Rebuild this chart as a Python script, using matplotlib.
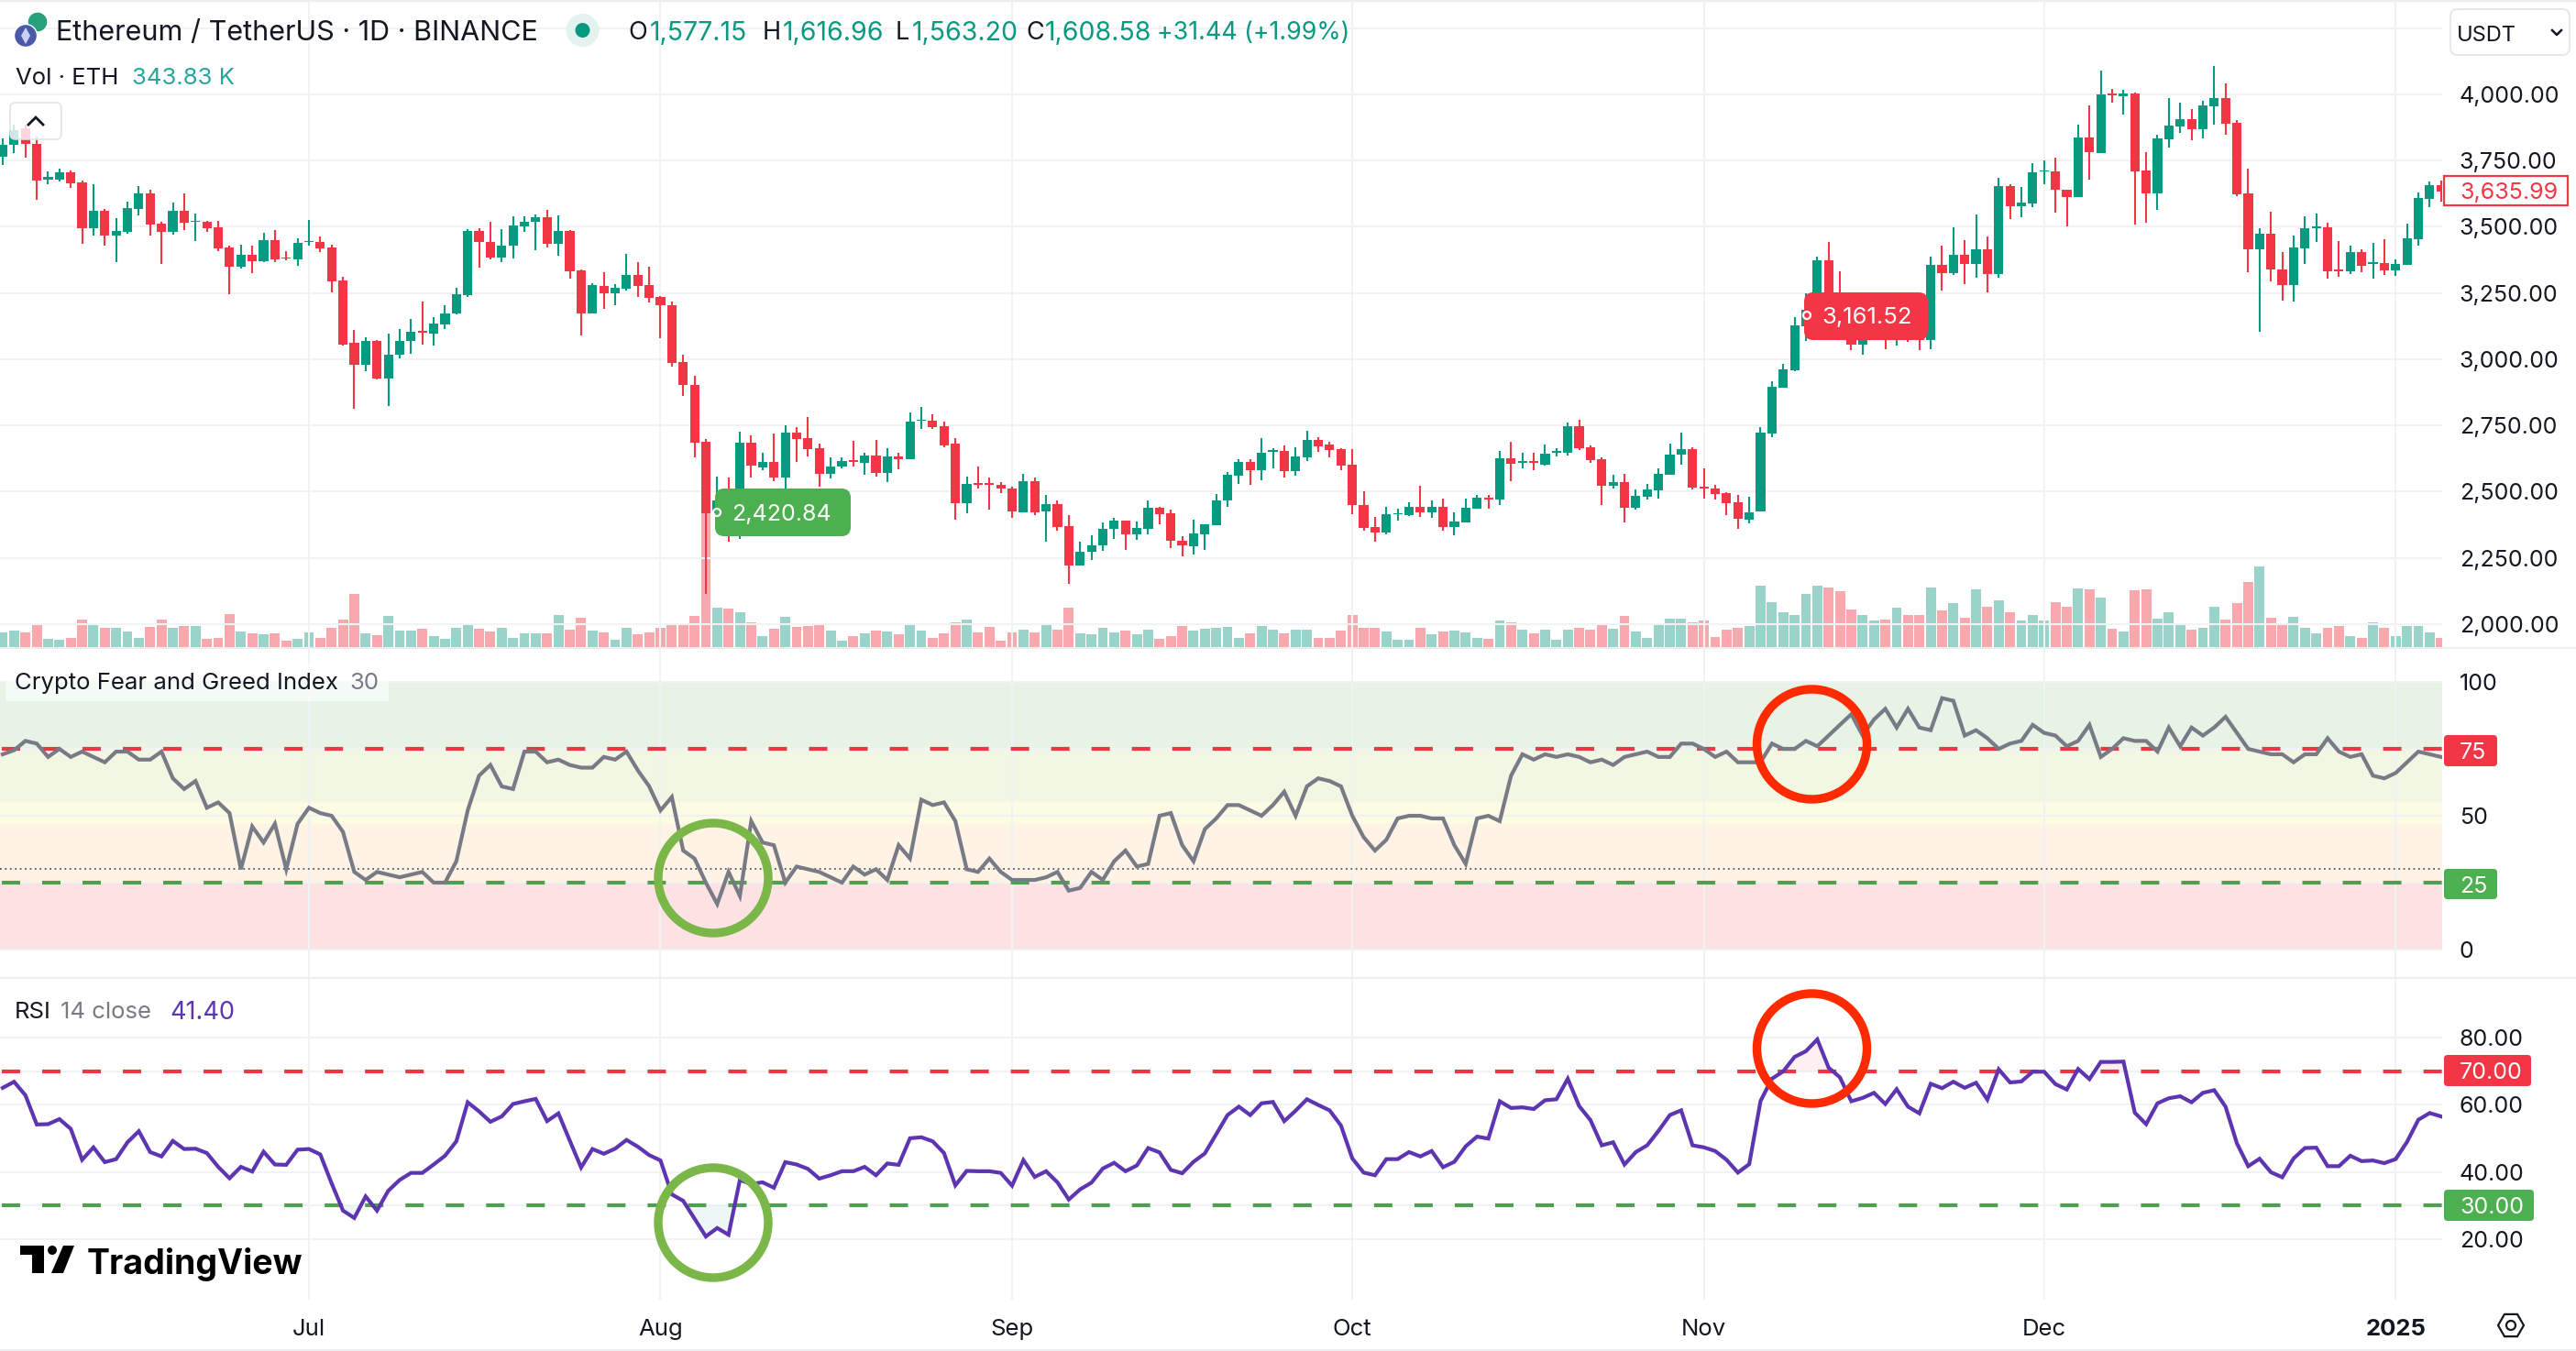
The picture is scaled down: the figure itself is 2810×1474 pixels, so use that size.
import matplotlib
matplotlib.use("Agg")
import matplotlib.pyplot as plt
from matplotlib.patches import FancyBboxPatch, Ellipse, Circle, Polygon, Rectangle, RegularPolygon
import numpy as np

plt.rcParams['font.family'] = ['Inter', 'DejaVu Sans']
plt.rcParams['lines.scale_dashes'] = False

# ---------- data ----------
first_day = -27  # trading days counted from 1 Jul 2024
direction = ("GGRRGGRRGRGGGRRGRGRRRGRGRRG"
             "GRRRRGRGGGRGGGGRRGGGGRGRRGRGGRR"
             "RRRRRGRGRGRGRRRGGRGRGRGGRRRGRRR"
             "RGRGRRGGGGRGGRRRGGGGGRGGRGGRRR"
             "RRRGGGRGRGGGRGRGRGGGRRRGRGGGGGR"
             "RRRRGGGGGGGRRRGGRGRRGRGRGRGRGG"
             "GRRGRGRGRRGGGRGGRRRGRRGGGRRGRGR"
             "GGGGR")
highs = [3832,3887,3887,3840,3708,3720,3712,3673,3660,3566,3533,3593,3652,3638,3517,3590,3625,3549,3522,3522,3430,3431,3428,3477,3487,3407,3458,
 3525,3463,3431,3312,3110,3082,3072,3096,3115,3152,3219,3157,3204,3268,3492,3496,3519,3492,3538,3541,3546,3563,3542,3487,3339,3287,3328,3282,3398,3365,3349,
 3239,3217,3018,2937,2699,2558,2553,2726,2712,2645,2720,2751,2743,2780,2680,2629,2628,2691,2648,2696,2664,2645,2799,2820,2791,2764,2701,2556,2596,2553,2535,
 2518,2566,2553,2489,2466,2410,2311,2334,2383,2400,2391,2386,2466,2443,2431,2330,2394,2375,2492,2573,2624,2624,2702,2664,2675,2667,2728,2704,2688,2664,
 2661,2500,2405,2442,2434,2461,2523,2466,2472,2423,2472,2489,2489,2653,2688,2648,2648,2678,2664,2761,2772,2675,2629,2564,2567,2508,2529,2589,2682,2723,2669,
 2588,2526,2497,2489,2481,2745,2915,2982,3157,3249,3387,3442,3331,3212,3172,3180,3172,3164,3164,3149,3387,3427,3498,3449,3546,3463,3685,3662,3649,3739,
 3749,3760,3641,3887,3959,4089,4022,4017,4006,3781,3848,3987,3967,3943,3975,4106,4041,3903,3719,3496,3557,3404,3466,3539,3550,3514,3446,3427,3415,3439,3454,
 3376,3512,3628,3670,3676]
body_highs = [3808,3863,3871,3811,3687,3706,3706,3668,3560,3560,3484,3571,3625,3625,3512,3560,3560,3523,3519,3498,3422,3395,3393,3449,3449,3384,3438,
 3446,3442,3422,3298,3061,3069,3069,3018,3069,3104,3106,3134,3174,3245,3484,3484,3444,3428,3504,3519,3536,3535,3484,3484,3336,3279,3277,3269,3319,3319,3280,
 3236,3204,2990,2901,2688,2466,2466,2685,2685,2612,2612,2723,2723,2701,2664,2596,2617,2620,2637,2637,2632,2632,2764,2771,2767,2747,2682,2529,2531,2531,2526,
 2513,2540,2540,2452,2452,2370,2273,2297,2358,2389,2389,2364,2440,2439,2418,2316,2342,2375,2466,2564,2612,2612,2645,2656,2655,2631,2696,2694,2677,2659,
 2600,2448,2367,2415,2418,2442,2442,2443,2443,2386,2439,2477,2477,2627,2627,2617,2615,2643,2655,2747,2747,2667,2623,2535,2535,2485,2508,2566,2640,2659,2659,
 2519,2510,2494,2461,2423,2723,2896,2961,3128,3188,3374,3374,3188,3133,3117,3133,3133,3125,3133,3117,3357,3357,3395,3395,3415,3415,3654,3654,3590,3706,
 3712,3709,3641,3836,3836,4000,4003,4002,4003,3712,3833,3881,3906,3906,3959,3986,3986,3892,3625,3474,3474,3338,3422,3495,3501,3498,3339,3404,3403,3366,3363,
 3358,3457,3609,3657,3657]
body_lows = [3765,3808,3811,3676,3679,3678,3665,3496,3496,3468,3468,3479,3566,3509,3482,3481,3514,3519,3496,3419,3350,3349,3371,3369,3376,3379,3377,
 3441,3419,3295,3056,2980,2980,2928,2928,3017,3068,3101,3096,3131,3172,3242,3444,3384,3384,3427,3501,3519,3434,3436,3331,3172,3172,3247,3247,3266,3277,3233,
 3203,2987,2901,2685,2418,2418,2338,2338,2597,2592,2553,2553,2699,2661,2566,2566,2593,2612,2608,2569,2569,2621,2621,2766,2744,2675,2456,2456,2526,2526,2513,
 2424,2423,2421,2424,2367,2222,2222,2272,2296,2358,2338,2338,2361,2416,2315,2296,2294,2338,2373,2466,2561,2580,2580,2651,2578,2578,2629,2672,2656,2599,
 2448,2364,2346,2345,2413,2410,2421,2423,2365,2367,2385,2437,2470,2469,2605,2610,2610,2602,2648,2648,2663,2620,2523,2523,2440,2440,2481,2505,2564,2639,2516,
 2510,2492,2456,2396,2394,2424,2720,2893,2958,3125,3188,3180,3101,3055,3055,3109,3072,3077,3101,3072,3071,3325,3325,3360,3360,3323,3323,3577,3577,3589,
 3708,3639,3612,3612,3781,3779,3997,3992,3709,3625,3625,3830,3879,3868,3868,3954,3890,3622,3415,3415,3338,3280,3280,3419,3496,3331,3331,3331,3352,3361,3336,
 3336,3357,3454,3604,3633]
lows = [3732,3779,3760,3603,3662,3670,3646,3434,3466,3430,3365,3474,3542,3465,3358,3469,3488,3446,3479,3409,3244,3341,3325,3365,3368,3374,3353,
 3430,3403,3253,3052,2812,2956,2923,2823,3004,3021,3055,3050,3114,3168,3236,3346,3377,3368,3379,3482,3411,3423,3390,3303,3090,3172,3191,3203,3260,3234,3214,
 3079,2971,2861,2629,2113,2386,2311,2322,2553,2580,2540,2510,2612,2634,2517,2550,2588,2596,2564,2558,2537,2585,2621,2736,2736,2669,2394,2418,2510,2432,2494,
 2402,2423,2411,2310,2351,2153,2221,2243,2275,2323,2280,2318,2338,2377,2286,2254,2264,2280,2373,2442,2529,2526,2542,2589,2553,2561,2617,2650,2629,2580,
 2415,2354,2311,2338,2391,2408,2405,2402,2353,2334,2385,2434,2437,2450,2540,2589,2580,2599,2632,2637,2656,2608,2450,2510,2385,2432,2469,2474,2564,2602,2507,
 2472,2470,2411,2361,2381,2424,2704,2891,2956,3069,3180,3149,3085,3033,3017,3101,3036,3050,3066,3033,3036,3260,3317,3284,3307,3252,3306,3530,3536,3573,
 3660,3554,3501,3612,3678,3779,3968,3924,3508,3516,3565,3800,3854,3827,3832,3887,3848,3617,3328,3104,3295,3222,3218,3360,3442,3304,3311,3323,3328,3304,3319,
 3314,3357,3427,3574,3593]
# volume, in steps of roughly 14K ETH
volume = [35,41,35,55,21,18,24,66,57,46,48,38,24,50,66,48,51,51,20,22,80,38,33,31,33,16,21,
 35,22,46,66,128,33,29,76,41,41,44,28,20,48,57,44,38,46,24,33,33,33,78,42,71,41,36,18,48,31,35,
 48,57,53,76,383,94,92,85,61,27,44,72,50,52,53,41,16,28,34,41,38,31,58,41,24,33,61,66,35,50,16,
 35,42,35,58,42,94,33,31,48,35,41,31,43,20,27,51,41,44,48,50,24,33,51,43,33,42,42,24,24,41,
 78,48,48,38,18,18,46,31,38,41,35,22,20,65,61,43,33,43,18,43,46,42,53,44,76,38,22,55,68,68,60,
 64,26,42,46,51,148,108,83,77,128,148,142,133,90,77,64,66,94,78,78,142,88,105,70,138,98,113,83,65,78,
 65,107,98,140,138,118,44,38,136,138,68,83,58,43,46,98,66,105,155,192,70,56,72,48,33,48,51,28,24,61,46,
 28,51,51,35,24]
fear_greed = [73,74.5,78,77,72,75,72,74,72,70,74,74,71,71,74,64,60,63,53,55,51,30,46,40,47,30,47,
 53,51,50,44,29,26,29,28,27,28,29,25,25,33,52,65,69,61,60,74,74,70,71,69,68,68,72,71,74,67,61,
 52,57,37,34,25,17,29,20,48,40,39,25,31,30,29,27,25,31,28,30,26,39,34,56,54,55,48,30,29,34,29,
 26,26,26,27,29,22,23,29,26,33,37,31,32,50,51,39,33,45,49,54,54,52,50,54,59,50,61,64,63,61,
 50,42,37,41,49,50,50,49,49,39,32,49,50,48,65,73,71,73,72,73,72,70,71,69,72,73,74,72,72,77,77,
 75,72,74,70,70,70,77,75,75,78,76,80,84,88,80,86,90,83,90,83,82,94,93,80,82,79,75,77,78,84,
 81,80,76,78,84,72,75,79,78,78,74,83,76,83,80,83,87,81,75,74,73,73,70,73,73,79,74,72,73,65,64,
 66,70,74,73,72]
rsi = [65,66.8,62.8,54.1,54.2,55.7,52.8,43.6,47.3,42.9,43.8,48.8,52.1,45.9,44.6,49.2,46.8,46.9,45.6,41.5,38.1,41.5,40.1,46,42.2,42.1,46.6,
 46.8,45.2,36.6,28.5,26.3,32.7,28.5,34.4,37.6,39.7,39.7,42.2,44.8,49.1,60.7,58,54.9,56.5,60.2,61,61.7,55.1,57.4,49.3,41.3,46.8,45.4,46.9,49.5,47.5,45,
 43.4,33.3,31.4,26.1,20.8,23.3,21.3,37.6,36.4,36.9,35.3,42.9,42.2,40.9,38,39,40.2,40.2,41.5,39,42.5,42.1,50,50.3,49.1,45.6,36,40.3,40.2,40.2,39.7,
 35.9,43.5,38.5,40.2,36.9,31.8,34.8,36.8,41,42.7,40.2,41.9,47.1,45.8,40.6,39.6,43,45.5,51.2,56.9,59.4,56.9,60.4,60.8,55.1,58.2,61.6,59.9,58.3,53.8,
 44,39.8,39,43.8,43.8,45.9,44.6,46.2,41.4,43,47.6,50.5,49.9,61,59,59.2,58.7,61.3,61.6,67.7,59.6,55.4,47.9,48.8,42.2,45.9,47.9,52.2,56.9,58.3,47.9,
 47.3,46.2,43.6,39.8,42.3,61.1,67.7,69.9,74.2,75.9,79.4,71,68.1,61,62,63.5,60.2,64.6,59.4,57.4,66.2,64.9,66.8,65,66.5,61.5,70.5,66.6,66.9,69.8,
 69.8,66.1,64.5,70.6,67.6,72.7,72.7,72.8,57.6,54.2,60.4,61.9,62.5,60.7,63.5,64.3,59.4,48.5,41.7,43.9,39.9,38.4,44,47.1,47.2,41.7,41.7,44.8,43.2,43.4,42.6,
 43.8,48.9,55.5,57.5,56.5]
month_ticks = [0, 31, 62, 92, 123, 153, 184]
month_labels = ['Jul', 'Aug', 'Sep', 'Oct', 'Nov', 'Dec', '2025']
price_ticks = [2000, 2250, 2500, 2750, 3000, 3250, 3500, 3750, 4000, 4250]
price_labels = ['2,000.00','2,250.00','2,500.00','2,750.00','3,000.00','3,250.00','3,500.00','3,750.00','4,000.00','']
fng_ticks = [0, 25, 50, 75, 100]
fng_labels = ['0', '', '50', '', '100']
rsi_ticks = [20, 30, 40, 60, 70, 80]
rsi_labels = ['20.00', '', '40.00', '60.00', '', '80.00']
fng_bands = [(75, 100, '#e6f3e5'), (55, 75, '#f0f7e3'), (47, 55, '#fdfbe3'), (25, 47, '#fef3e4'), (0, 25, '#fde2e4')]

for name, seq in [('h', highs), ('bh', body_highs), ('bl', body_lows), ('l', lows), ('v', volume), ('f', fear_greed), ('r', rsi), ('d', direction)]:
    assert len(seq) == 216, (name, len(seq))

# ---------- layout (pixels) ----------
W, H = 2810, 1474
DPI = 100
AX_R = 2664
fig = plt.figure(figsize=(W / DPI, H / DPI), dpi=DPI, facecolor='white')
def pane(top, bottom):
    return fig.add_axes([0, 1 - bottom / H, AX_R / W, (bottom - top) / H])

GREEN, RED, TXT, GREY = '#089981', '#F23645', '#131722', '#787B86'
GRID = '#f1f2f4'
TICK = 18.0
LEG = 18.5
days = np.arange(first_day, first_day + len(highs))
xlim = (-27.24, 188.1)
up = np.array([c == 'G' for c in direction])
hi, lo = np.array(highs, float), np.array(lows, float)
bh, bl = np.array(body_highs, float), np.array(body_lows, float)
cols = np.where(up, GREEN, RED)

def style(ax, ticks, labels, ylim):
    ax.set_xlim(*xlim)
    ax.set_ylim(*ylim)
    ax.yaxis.tick_right()
    ax.set_yticks(ticks)
    ax.set_yticklabels(labels, fontsize=TICK, color=TXT)
    ax.set_xticks(month_ticks)
    ax.set_xticklabels([])
    ax.tick_params(length=0, axis='both')
    ax.tick_params(axis='y', pad=13.5)
    ax.grid(True, color=GRID, lw=1.5)
    ax.set_axisbelow(True)
    for s in ax.spines.values():
        s.set_visible(False)

# main pane
ax = pane(0, 707)
axv = ax.twinx()
ax.set_zorder(axv.get_zorder() + 1)
ax.patch.set_visible(False)
axv.set_position(ax.get_position())
style(ax, price_ticks, price_labels, (1909.5, 4356))
axv.set_xlim(*xlim)
axv.set_ylim(-1, 1539)
axv.bar(days, volume, width=0.88, color=np.where(up, '#99d3ca', '#f9a9ae'), linewidth=0)
axv.axis('off')
axv.patch.set_visible(True)
ax.vlines(days, lo, hi, colors=cols, lw=1.5, zorder=3)
ax.bar(days, np.maximum(bh - bl, 2), bottom=bl, width=0.82, color=cols, linewidth=0, zorder=4)

# fear & greed pane
ax2 = pane(708, 1068)
style(ax2, fng_ticks, fng_labels, (-11, 112.4))
for lo_v, hi_v, c in fng_bands:
    ax2.axhspan(lo_v, hi_v, color=c, lw=0, zorder=0)
dash = (-1.4, (14.4, 17.3))
ax2.axhline(75, color='#E53945', lw=3.0, ls=dash, zorder=2, dash_capstyle='butt')
ax2.axhline(25, color='#4E9F50', lw=3.0, ls=dash, zorder=2, dash_capstyle='butt')
ax2.axhline(30, color='#555a66', lw=1.3, ls=(0, (1.3, 2.6)), zorder=2)
ax2.plot(days, fear_greed, color=GREY, lw=3.0, zorder=3, solid_joinstyle='miter')

# RSI pane
ax3 = pane(1068, 1418)
style(ax3, rsi_ticks, rsi_labels, (2.0, 97.4))
ax3.axhline(70, color='#E53945', lw=3.0, ls=dash, zorder=2, dash_capstyle='butt')
ax3.axhline(30, color='#4E9F50', lw=3.0, ls=dash, zorder=2, dash_capstyle='butt')
r = np.array(rsi)
ax3.fill_between(days, 70, r, where=r > 70, interpolate=True, color='#F23645', alpha=0.07, lw=0, zorder=1)
ax3.fill_between(days, 30, r, where=r < 30, interpolate=True, color='#089981', alpha=0.07, lw=0, zorder=1)
ax3.plot(days, rsi, color='#5E35B1', lw=3.0, zorder=3, solid_joinstyle='miter')
ax3.set_xticklabels(month_labels, fontsize=18.5, color=TXT)
ax3.tick_params(axis='x', pad=15)
ax3.get_xticklabels()[-1].set_fontweight('bold')
for t in ax3.get_yticklabels():
    t.set_color(TXT)

# ---------- overlay in pixel space ----------
ov = fig.add_axes([0, 0, 1, 1], zorder=20)
ov.set_xlim(0, W)
ov.set_ylim(H, 0)
ov.axis('off')
ov.patch.set_visible(False)

def txt(x, y, s, size=17, color=TXT, ha='left', weight='normal', family=None):
    kw = dict(family=family) if family else {}
    return ov.text(x, y, s, fontsize=size, color=color, ha=ha, va='center_baseline', fontweight=weight, **kw)

def box(x0, y0, x1, y1, fc, ec='none', lw=0, r=8, alpha=None, z=2):
    ov.add_patch(FancyBboxPatch((x0 + r, y0 + r), x1 - x0 - 2 * r, y1 - y0 - 2 * r,
                                boxstyle=f'round,pad={r},rounding_size={r}', fc=fc, ec=ec, lw=lw, alpha=alpha, zorder=z))

# separators
for y, xs in [(707, W), (1067, W), (1473, W), (1, W)]:
    ov.plot([0, xs], [y, y], color='#eceef0', lw=1.5, zorder=1)

# header
ov.add_patch(Circle((41, 24), 11, fc='#26A17B', ec='white', lw=1, zorder=3))
ov.add_patch(Circle((28, 39), 12.5, fc='#4A5AA8', ec='white', lw=1, zorder=4))
ov.add_patch(Polygon([(28, 30), (33, 39), (28, 48), (23, 39)], fc='#c9d2f5', zorder=5))
txt(61, 33, 'Ethereum / TetherUS · 1D · BINANCE', 22)
ov.add_patch(Circle((635.5, 33), 18, fc='#e3f3f0', ec='none', zorder=3))
ov.add_patch(Circle((635.5, 33), 8, fc=GREEN, ec='none', zorder=4))
for x, lab, x2, val in [(685, 'O', 709, '1,577.15'), (832, 'H', 854, '1,616.96'),
                        (977, 'L', 995, '1,563.20'), (1119, 'C', 1140, '1,608.58')]:
    txt(x, 33, lab, 19.5)
    txt(x2, 33, val, 20.5, GREEN)
txt(1262, 33, '+31.44 (+1.99%)', 19.3, GREEN)
txt(17, 83, 'Vol · ETH', LEG)
txt(144, 83, '343.83 K', LEG, '#26A69A')
box(11, 112, 67, 152, 'white', '#dfe1e5', 1.4, r=6, alpha=0.8)
ov.plot([31, 39, 47], [136, 128, 136], color=TXT, lw=2, zorder=5, solid_joinstyle='miter')

# currency selector
box(2673, 10, 2803, 60, 'white', '#e6e8ea', 1.4, r=8)
txt(2680, 36, 'USDT', 17)
ov.plot([2784, 2789, 2794], [33, 38, 33], color=TXT, lw=1.8, zorder=5)

# last price tag
ov.add_patch(Rectangle((2666, 192), 135, 32, fc='white', ec=RED, lw=1.6, zorder=3))
txt(2683, 208, '3,635.99', TICK, RED).set_zorder(5)

# level tags
for x0, x1, y0, y1, c, s in [(2666, 2724, 802, 836, RED, '75'), (2666, 2724, 948, 981, '#4CAF50', '25'),
                             (2666, 2761, 1151, 1185, RED, '70.00'), (2666, 2764, 1298, 1332, '#4CAF50', '30.00')]:
    box(x0, y0, x1, y1, c, r=4)
    txt(2683, (y0 + y1) / 2, s, TICK, 'white').set_zorder(5)

# price callouts
box(780, 533, 928, 585, '#4CAF50', r=10)
ov.add_patch(Circle((782, 559), 4, fc='none', ec='white', lw=1.6, zorder=5))
txt(798, 559, '2,420.84', 18, 'white').set_zorder(5)
box(1968, 319, 2103, 371, RED, r=10)
ov.add_patch(Circle((1971, 344), 4, fc='none', ec='white', lw=1.6, zorder=5))
txt(1987, 344, '3,161.52', 18.5, 'white').set_zorder(5)

# indicator legends
ov.add_patch(Rectangle((6, 722), 418, 43, fc='white', alpha=0.6, lw=0, zorder=1.5))
txt(16, 743, 'Crypto Fear and Greed Index', LEG)
txt(381, 743, '30', LEG, GREY)
txt(16, 1102, 'RSI', LEG)
txt(66, 1102, '14 close', LEG, GREY)
txt(185, 1102, '41.40', 19.5, '#5E35B1')

# hand drawn circles
for cx, cy, c in [(778, 958, '#7AB648'), (778, 1334, '#7AB648'), (1976.5, 812, '#FF2A00'), (1976.5, 1144, '#FF2A00')]:
    ov.add_patch(Ellipse((cx, cy), 120, 120, fc='none', ec=c, lw=6.8, zorder=6))

# TradingView mark
ov.add_patch(Polygon([(22, 1359), (48, 1359), (48, 1389), (35, 1389), (35, 1369), (22, 1369)], fc='black', lw=0, zorder=6))
ov.add_patch(Circle((57, 1364), 5, fc='black', lw=0, zorder=6))
ov.add_patch(Polygon([(69, 1359), (81, 1359), (69, 1389), (56, 1389)], fc='black', lw=0, zorder=6))
txt(95, 1375, 'TradingView', 27, 'black', weight='bold').set_zorder(6)

# settings icon
ov.add_patch(RegularPolygon((2739, 1446), 6, radius=14, orientation=np.pi / 6, fc='none', ec=TXT, lw=1.6, zorder=5))
ov.add_patch(Circle((2739, 1446), 5, fc='none', ec=TXT, lw=1.6, zorder=5))

fig.savefig('out.png', dpi=DPI)
